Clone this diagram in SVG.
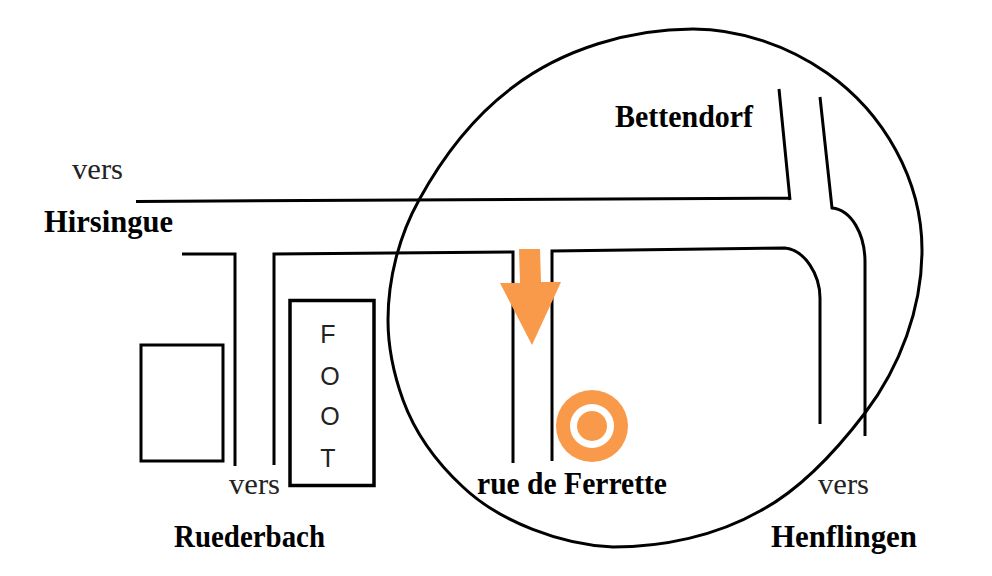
<svg xmlns="http://www.w3.org/2000/svg" width="992" height="576" viewBox="0 0 992 576">
<style>
.r{fill:none;stroke:#000;stroke-width:3;stroke-linejoin:miter}
.o{fill:#f99a4a}
.b{stroke-width:3.5}
.n{font-family:"Liberation Serif",serif;font-size:32px;font-weight:bold;fill:#000}
.v{font-family:"Liberation Serif",serif;font-size:29px;fill:#222}
.f{font-family:"Liberation Sans",sans-serif;font-size:25px;fill:#222;text-anchor:middle}
</style>
<rect width="992" height="576" fill="#fff"/>
<g id="connectors">
<path class="r" d="M136 201.500L790 198M779 89L790 200"/>
<path class="r" d="M820 97L832 208C852 210 865 235 865 262V436"/>
<path class="r" d="M182 254H235V466"/>
<path class="r" d="M274 465V254L513 252V463"/>
<path class="r" d="M552 461V251L785 248C805 250 820 275 820 298V424"/>
</g>
<path id="zone" class="r" d="M388 320C388 279 399 236 419 200C442.500 157 474 116 513 87C563 49 630 29 693 29C740 29 788.500 46 827 73C884 113 922 180 922 250C922 308 900 367 865 413C830 459 796 492 760 511C716 536 663 547 613 547C562 545 500 522 463 487C437 463 415 433 403 400C394 375 388 347 388 320Z"/>
<g id="arrow"><path class="o" d="M519 249H540L541 282H561L532 345L500 283H520Z"/></g>
<g id="target"><circle class="o" cx="592" cy="426" r="36"/><circle cx="592" cy="426" r="22" fill="#fff"/><circle class="o" cx="592" cy="426" r="15"/></g>
<g id="building"><rect class="r" x="141" y="345" width="82" height="116"/></g>
<g id="foot"><rect class="r b" x="290" y="300.500" width="84" height="185"/>
<text class="f" x="328" y="343">F</text><text class="f" x="330" y="385">O</text><text class="f" x="330" y="425">O</text><text class="f" x="328" y="467">T</text></g>
<g id="bettendorf"><text class="n" x="615" y="127" textLength="138" lengthAdjust="spacingAndGlyphs">Bettendorf</text></g>
<g id="hirsingue"><text class="v" x="72" y="179" textLength="51" lengthAdjust="spacingAndGlyphs">vers</text><text class="n" x="44" y="232" textLength="129" lengthAdjust="spacingAndGlyphs">Hirsingue</text></g>
<g id="ferrette"><text class="n" x="477" y="494" textLength="190" lengthAdjust="spacingAndGlyphs">rue de Ferrette</text></g>
<g id="ruederbach"><text class="v" x="229" y="494" textLength="51" lengthAdjust="spacingAndGlyphs">vers</text><text class="n" x="174" y="547" textLength="151" lengthAdjust="spacingAndGlyphs">Ruederbach</text></g>
<g id="henflingen"><text class="v" x="818" y="494" textLength="51" lengthAdjust="spacingAndGlyphs">vers</text><text class="n" x="771" y="547" textLength="146" lengthAdjust="spacingAndGlyphs">Henflingen</text></g>
</svg>
